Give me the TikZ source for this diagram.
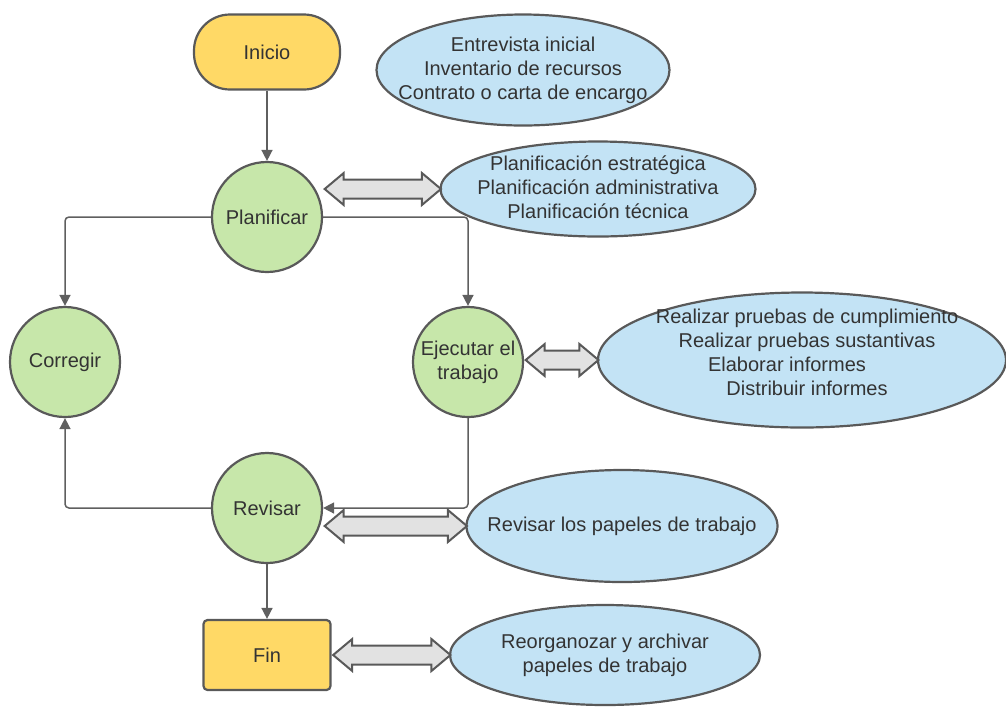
\documentclass[tikz,border=0pt]{standalone}
\usepackage{fontspec}
\setmainfont{Liberation Sans}
\usepackage{tikz}
\usetikzlibrary{shapes.geometric}
\usetikzlibrary{shapes.arrows}
\usetikzlibrary{arrows.meta}
\usetikzlibrary{calc}
\definecolor{amarillo}{RGB}{255,217,102}
\definecolor{verde}{RGB}{199,231,170}
\definecolor{celeste}{RGB}{195,227,245}
\definecolor{borde}{RGB}{89,89,89}
\definecolor{linea}{RGB}{95,95,95}
\definecolor{grisflecha}{RGB}{226,226,226}
\definecolor{texto}{RGB}{51,51,51}

\begin{document}
\begin{tikzpicture}[x=0.5pt,y=-0.5pt,
  font=\fontsize{10}{12}\selectfont, text=texto,
  inicio/.style={rectangle,draw=borde,line width=1.1pt,fill=amarillo,rounded corners=18pt,minimum width=73pt,minimum height=37.5pt},
  fin/.style={rectangle,draw=borde,line width=1.1pt,fill=amarillo,rounded corners=2pt,minimum width=63.5pt,minimum height=35pt},
  paso/.style={circle,draw=borde,line width=1.1pt,fill=verde,minimum size=55pt,inner sep=0pt,align=center},
  elip/.style={ellipse,draw=borde,line width=1.1pt,fill=celeste,inner sep=0pt},
  texto_elip/.style={align=center,inner sep=0pt},
  flujo/.style={draw=linea,line width=0.75pt,rounded corners=2pt,-{Triangle[length=5.5pt,width=5.5pt]}},
  flecha/.style={double arrow,draw=borde,line width=1pt,fill=grisflecha,inner xsep=0pt,inner ysep=4.25pt,minimum width=1pt,double arrow head extend=3.25pt,double arrow tip angle=80,anchor=west}
  ]

\useasboundingbox (0,0) rectangle (1006,708);

% pasos
\node[inicio] (ini) at (267,52) {Inicio};
\node[paso] (plan) at (267,217) {Planificar};
\node[paso] (corr) at (65,362) {Corregir};
\node[paso] (ej) at (468,362) {Ejecutar el\\trabajo};
\node[paso] (rev) at (267,508) {Revisar};
\node[fin] (fin) at (267,655) {Fin};

% elipses
\node[elip,minimum width=146.5pt,minimum height=55.5pt] (e1) at (523,70) {};
\node[elip,minimum width=157.5pt,minimum height=47.5pt] (e2) at (598,189) {};
\node[elip,minimum width=204pt,minimum height=67.5pt] (e3) at (802,360) {};
\node[elip,minimum width=155.5pt,minimum height=56pt] (e4) at (622,526) {};
\node[elip,minimum width=155pt,minimum height=50pt] (e5) at (605,655) {};

\node[texto_elip] (t1) at (e1) {Entrevista inicial\\Inventario de recursos\\Contrato o carta de encargo};
\node[texto_elip] (t2) at ($(e2)+(0,-2)$) {Planificaci\'on estrat\'egica\\Planificaci\'on administrativa\\Planificaci\'on t\'ecnica};
\node[texto_elip] (t3) at ($(e3)+(5,-8)$) {Realizar pruebas de cumplimiento\\Realizar pruebas sustantivas\\Elaborar informes\rule{20pt}{0pt}\\Distribuir informes};
\node[texto_elip] (t4) at (e4) {Revisar los papeles de trabajo};
\node[texto_elip] (t5) at (e5) {Reorganozar y archivar\\papeles de trabajo};

% flujo
\draw[flujo] (ini) -- (plan);
\draw[flujo] (plan.west) -| (corr);
\draw[flujo] (plan.east) -| (ej);
\draw[flujo] (ej) |- (rev);
\draw[flujo] (rev) -| (corr);
\draw[flujo] (rev) -- (fin);

% flechas dobles
\path let \p1=(plan.east), \p2=(e2.west), \n1={\x2-\x1} in node[flecha,minimum height=\n1] (f1) at (\x1,\y2) {};
\path let \p1=(ej.east), \p2=(e3.west), \n1={\x2-\x1} in node[flecha,minimum height=\n1] (f2) at (\x1,\y2) {};
\path let \p1=(rev.east), \p2=(e4.west), \n1={\x2-\x1} in node[flecha,minimum height=\n1] (f3) at (\x1,\y2) {};
\path let \p1=(fin.east), \p2=(e5.west), \n1={\x2-\x1} in node[flecha,minimum height=\n1] (f4) at (\x1,\y2) {};

\end{tikzpicture}
\end{document}
